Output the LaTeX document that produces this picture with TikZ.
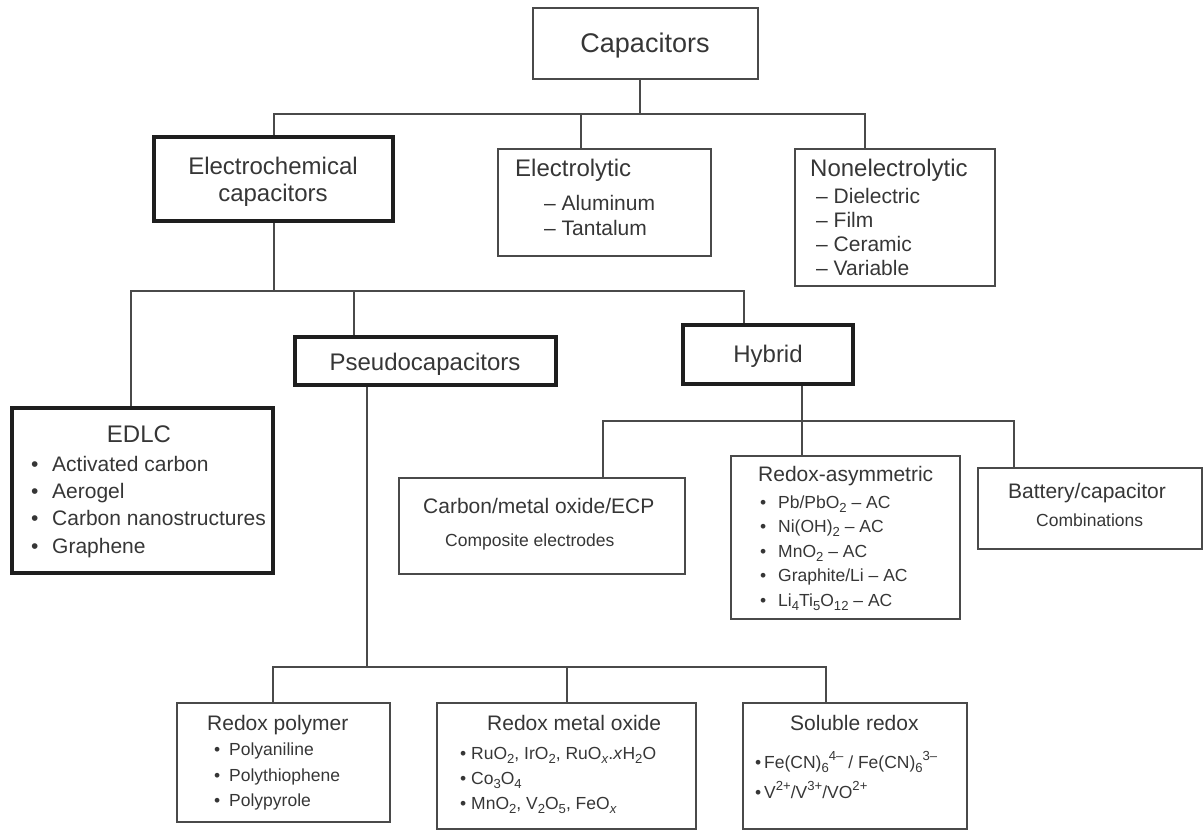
\documentclass[tikz,border=0pt]{standalone}
\usepackage{fontspec}
\setmainfont{Liberation Sans}
\usepackage{graphicx}
\usetikzlibrary{fit}
\definecolor{txt}{HTML}{363636}
\definecolor{ln}{HTML}{4A4A4A}
\definecolor{thk}{HTML}{1E1E1E}
\newcommand{\fs}[1]{\fontsize{#1}{#1}\selectfont}
\newcommand{\dn}[1]{\raisebox{-0.45ex}{\scalebox{0.75}{#1}}}
\newcommand{\up}[1]{\raisebox{0.85ex}{\scalebox{0.75}{#1}}}
\newcommand{\bul}[1]{\makebox[#1][l]{•}}
\tikzset{
  box/.style={draw=ln, line width=1.8pt, rectangle, inner sep=0pt},
  thickbox/.style={draw=thk, line width=4.2pt, rectangle, inner sep=0pt},
  conn/.style={draw=ln, line width=1.5pt},
  t/.style={inner sep=0pt, text=txt},
  tA/.style={t, font=\fs{27}},
  tB/.style={t, font=\fs{24}},
  tC/.style={t, font=\fs{21}},
  tD/.style={t, font=\fs{17.5}},
}
\begin{document}
\begin{tikzpicture}[x=1pt, y=-1pt]
\useasboundingbox (0,0) rectangle (1204,832);
% boxes
\node[box, fit={(533,8) (758,79)}] (cap) {};
\node[thickbox, fit={(154,137) (393,221)}] (ec) {};
\node[box, fit={(498,149) (711,256)}] (elec) {};
\node[box, fit={(795,149) (995,286)}] (nonel) {};
\node[thickbox, fit={(12,408) (273,573)}] (edlc) {};
\node[thickbox, fit={(295,337) (556,385)}] (pse) {};
\node[thickbox, fit={(683,325) (853,384)}] (hyb) {};
\node[box, fit={(399,478) (685,574)}] (cmo) {};
\node[box, fit={(731,456) (960,619)}] (rasym) {};
\node[box, fit={(978,468) (1202,549)}] (batt) {};
\node[box, fit={(177,703) (390,822)}] (rpoly) {};
\node[box, fit={(437,703) (696,829)}] (rmo) {};
\node[box, fit={(743,703) (967,829)}] (sol) {};
% connectors level 1
\coordinate (b1) at (640,114);
\coordinate (b1l) at (274,114);
\coordinate (b1m) at (581,114);
\coordinate (b1r) at (865,114);
\draw[conn] (cap.south -| b1) -- (b1);
\draw[conn] (ec.north -| b1l) -- (b1l) -- (b1r) -- (nonel.north -| b1r);
\draw[conn] (b1m) -- (elec.north -| b1m);
% level 2
\coordinate (b2c) at (274,291);
\coordinate (b2l) at (131,291);
\coordinate (b2m) at (354,291);
\coordinate (b2r) at (744,291);
\draw[conn] (ec.south -| b2c) -- (b2c);
\draw[conn] (edlc.north -| b2l) -- (b2l) -- (b2r) -- (hyb.north -| b2r);
\draw[conn] (b2m) -- (pse.north -| b2m);
% level 3 (hybrid)
\coordinate (b3c) at (802,421);
\coordinate (b3l) at (603,421);
\coordinate (b3r) at (1014,421);
\draw[conn] (hyb.south -| b3c) -- (rasym.north -| b3c);
\draw[conn] (cmo.north -| b3l) -- (b3l) -- (b3r) -- (batt.north -| b3r);
% level 3 (pseudo)
\coordinate (b4c) at (367,667);
\coordinate (b4l) at (273,667);
\coordinate (b4m) at (567,667);
\coordinate (b4r) at (826,667);
\draw[conn] (pse.south -| b4c) -- (b4c);
\draw[conn] (rpoly.north -| b4l) -- (b4l) -- (b4r) -- (sol.north -| b4r);
\draw[conn] (b4m) -- (rmo.north -| b4m);
% texts
\node[tA, anchor=base] (capT) at (645,53) {Capacitors};
\node[tB, anchor=base] (ecT1) at (273,174) {Electrochemical};
\node[tB, anchor=base] (ecT2) at (273,201) {capacitors};
\node[tB, anchor=base west] (elT) at (515,176) {Electrolytic};
\node[tC, anchor=base west] (el1) at (544,210) {– Aluminum};
\node[tC, anchor=base west] (el2) at (544,235) {– Tantalum};
\node[tB, anchor=base west] (neT) at (810,176) {Nonelectrolytic};
\node[tC, anchor=base west] (ne1) at (816,203) {– Dielectric};
\node[tC, anchor=base west] (ne2) at (816,227) {– Film};
\node[tC, anchor=base west] (ne3) at (816,251) {– Ceramic};
\node[tC, anchor=base west] (ne4) at (816,275) {– Variable};
\node[tB, anchor=base] (pseT) at (425,370) {Pseudocapacitors};
\node[tB, anchor=base] (hybT) at (768,362) {Hybrid};
\node[tB, anchor=base] (edlcT) at (139,442) {EDLC};
\node[tC, anchor=base west] (ed1) at (31,471) {\bul{21pt}Activated carbon};
\node[tC, anchor=base west] (ed2) at (31,498) {\bul{21pt}Aerogel};
\node[tC, anchor=base west] (ed3) at (31,525) {\bul{21pt}Carbon nanostructures};
\node[tC, anchor=base west] (ed4) at (31,553) {\bul{21pt}Graphene};
\node[tC, anchor=base west] (cmoT) at (423,513) {Carbon/metal oxide/ECP};
\node[tD, anchor=base west] (cmo1) at (445,546) {Composite electrodes};
\node[tC, anchor=base west] (rasT) at (758,481) {Redox-asymmetric};
\node[tD, anchor=base west] (ra1) at (760,508) {\bul{18pt}Pb/PbO\dn{2} – AC};
\node[tD, anchor=base west] (ra2) at (760,532) {\bul{18pt}Ni(OH)\dn{2} – AC};
\node[tD, anchor=base west] (ra3) at (760,557) {\bul{18pt}MnO\dn{2} – AC};
\node[tD, anchor=base west] (ra4) at (760,581) {\bul{18pt}Graphite/Li – AC};
\node[tD, anchor=base west] (ra5) at (760,606) {\bul{18pt}Li\dn{4}Ti\dn{5}O\dn{12} – AC};
\node[tC, anchor=base west] (batT) at (1008,498) {Battery/capacitor};
\node[tD, anchor=base west] (bat1) at (1036,526) {Combinations};
\node[tC, anchor=base west] (rpT) at (207,730) {Redox polymer};
\node[tD, anchor=base west] (rp1) at (214,755) {\bul{15pt}Polyaniline};
\node[tD, anchor=base west] (rp2) at (214,781) {\bul{15pt}Polythiophene};
\node[tD, anchor=base west] (rp3) at (214,806) {\bul{15pt}Polypyrole};
\node[tC, anchor=base west] (rmT) at (487,730) {Redox metal oxide};
\node[tD, anchor=base west] (rm1) at (460,759) {\bul{11pt}RuO\dn{2}, IrO\dn{2}, RuO\dn{\textit{x}}.\textit{x}H\dn{2}O};
\node[tD, anchor=base west] (rm2) at (460,784) {\bul{11pt}Co\dn{3}O\dn{4}};
\node[tD, anchor=base west] (rm3) at (460,809) {\bul{11pt}MnO\dn{2}, V\dn{2}O\dn{5}, FeO\dn{\textit{x}}};
\node[tC, anchor=base west] (soT) at (790,730) {Soluble redox};
\node[tD, anchor=base west] (so1) at (755,768) {\bul{9pt}Fe(CN)\dn{6}\up{4–} / Fe(CN)\dn{6}\up{3–}};
\node[tD, anchor=base west] (so2) at (755,798) {\bul{9pt}V\up{2+}/V\up{3+}/VO\up{2+}};
\end{tikzpicture}
\end{document}
